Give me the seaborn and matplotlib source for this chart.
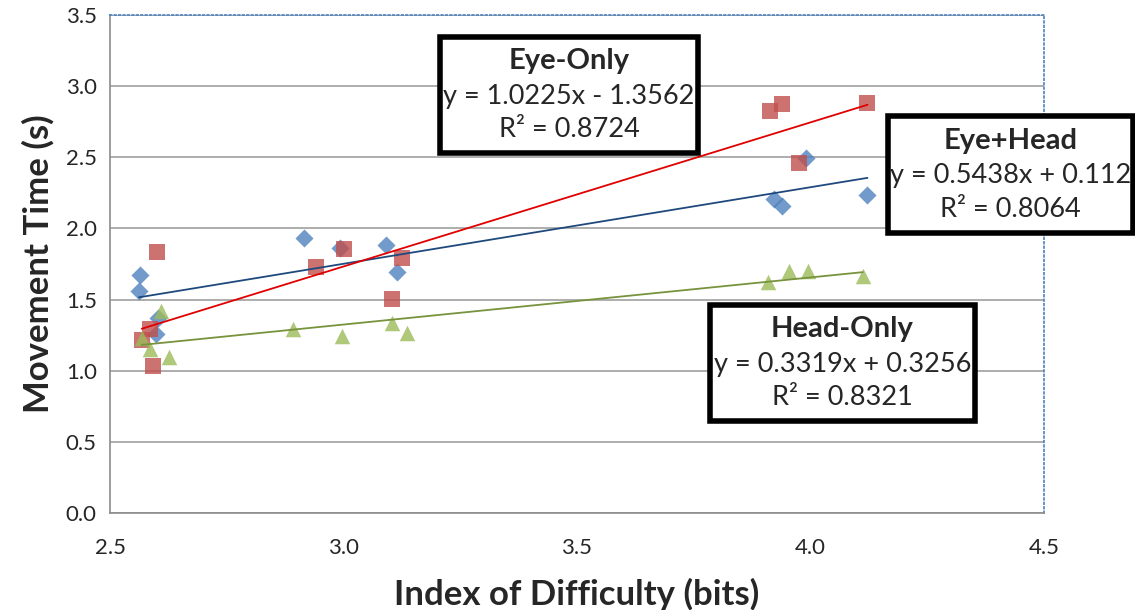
import numpy as np
import pandas as pd
import matplotlib
matplotlib.use("Agg")
import matplotlib.pyplot as plt
import seaborn as sns

# values
eye_head_x = [2.565, 2.562, 2.603, 2.598, 2.915, 2.993, 3.090, 3.114, 3.922, 3.940, 3.990, 4.122]
eye_head_y = [1.672, 1.562, 1.368, 1.256, 1.930, 1.864, 1.883, 1.696, 2.204, 2.157, 2.493, 2.232]

eye_only_x = [2.600, 2.586, 2.568, 2.593, 2.942, 3.001, 3.125, 3.104, 3.913, 3.940, 4.122, 3.975]
eye_only_y = [1.832, 1.291, 1.216, 1.033, 1.731, 1.853, 1.794, 1.504, 2.827, 2.874, 2.879, 2.457]

head_only_x = [2.609, 2.568, 2.586, 2.626, 2.891, 2.997, 3.104, 3.137, 3.910, 3.955, 3.995, 4.112]
head_only_y = [1.422, 1.228, 1.150, 1.094, 1.291, 1.244, 1.333, 1.267, 1.623, 1.700, 1.700, 1.666]

labels = ["Eye-Only", "Eye+Head", "Head-Only"]
equations = ["y = 1.0225x - 1.3562", "y = 0.5438x + 0.112", "y = 0.3319x + 0.3256"]
r_squared = ["R² = 0.8724", "R² = 0.8064", "R² = 0.8321"]

sns.set_style("white")
plt.rcParams['font.family'] = ['Lato', 'DejaVu Sans']

fig = plt.figure(figsize=(11.35, 6.10), dpi=100)
ax = fig.add_axes([110/1135, 97/610, 934/1135, 498/610])

series = [
    (eye_head_x, eye_head_y, "#4F81BD", "D", 85, "#1F497D"),
    (eye_only_x, eye_only_y, "#C0504D", "s", 120, "#E00000"),
    (head_only_x, head_only_y, "#9BBB59", "^", 125, "#77933C"),
]
for xs, ys, c, m, s, lc in series:
    df = pd.DataFrame({"x": xs, "y": ys})
    sns.regplot(data=df, x="x", y="y", ax=ax, ci=None, truncate=True,
                marker=m, scatter_kws=dict(color=c, s=s, linewidths=0, zorder=3),
                line_kws=dict(color=lc, lw=1.3, zorder=4))

ax.set_xlim(2.5, 4.5)
ax.set_ylim(0, 3.5)
ax.set_xticks(np.arange(2.5, 4.51, 0.5))
ax.set_yticks(np.arange(0, 3.51, 0.5))
ax.set_xticklabels([f"{v:.1f}" for v in np.arange(2.5, 4.51, 0.5)])
ax.set_yticklabels([f"{v:.1f}" for v in np.arange(0, 3.51, 0.5)])
ax.grid(axis="y", color="#A0A0A0", lw=1.2)
ax.set_axisbelow(True)
for sp in ["left", "bottom"]:
    ax.spines[sp].set_color("#8C8C8C")
    ax.spines[sp].set_linewidth(1.2)
for sp in ["top", "right"]:
    ax.spines[sp].set_color("#4F81BD")
    ax.spines[sp].set_linestyle(":")
    ax.spines[sp].set_linewidth(1.2)
ax.tick_params(axis="both", labelsize=16, length=6, color="#8C8C8C", direction="out")
ax.tick_params(axis="x", pad=12)
ax.set_xlabel("Index of Difficulty (bits)", fontsize=25, fontweight="bold", labelpad=14)
ax.set_ylabel("Movement Time (s)", fontsize=25, fontweight="bold", labelpad=8)

# trendline label boxes (pixel boxes converted to figure fractions)
boxes = [(440, 37, 698, 153), (888, 116, 1133, 233), (710, 305, 975, 421)]
for (x0, y0, x1, y1), lab, eq, r2 in zip(boxes, labels, equations, r_squared):
    rect = plt.Rectangle((x0/1135, 1 - y1/610), (x1 - x0)/1135, (y1 - y0)/610,
                         transform=fig.transFigure, facecolor="white",
                         edgecolor="black", lw=4, zorder=5)
    fig.patches.append(rect)
    cx = (x0 + x1) / 2 / 1135
    h = (y1 - y0)
    fig.text(cx, 1 - (y0 + h * 0.21) / 610, lab, ha="center", va="center",
             fontsize=21, fontweight="bold", zorder=6)
    fig.text(cx, 1 - (y0 + h * 0.51) / 610, eq, ha="center", va="center",
             fontsize=19.5, zorder=6)
    fig.text(cx, 1 - (y0 + h * 0.80) / 610, r2, ha="center", va="center",
             fontsize=19.5, zorder=6)

fig.savefig("out.png", dpi=100)
